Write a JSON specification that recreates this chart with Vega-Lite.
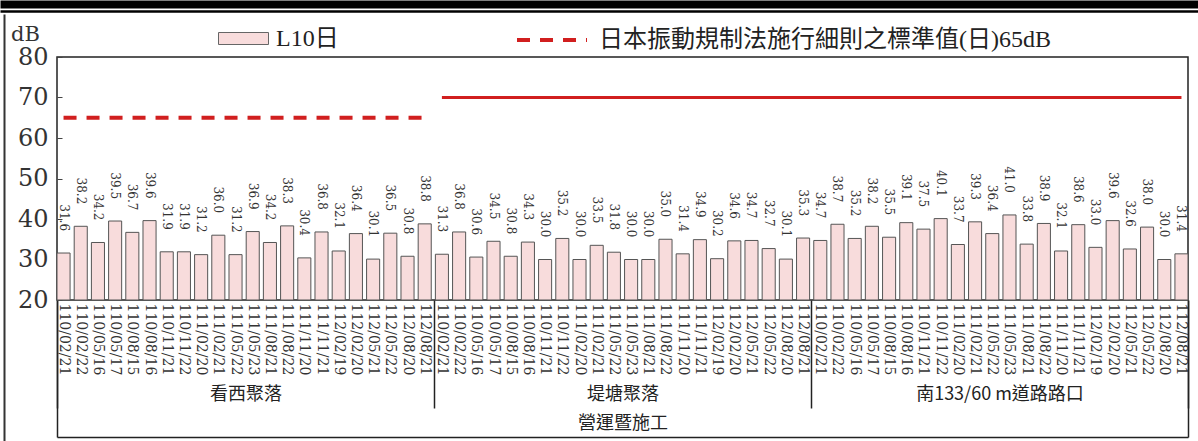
{
  "$schema": "https://vega.github.io/schema/vega-lite/v6.json",
  "width": 1131,
  "height": 243,
  "autosize": {"type": "none"},
  "padding": {"left": 57, "top": 57, "right": 10, "bottom": 141},
  "background": "white",
  "config": {
    "view": {"stroke": "#222", "strokeWidth": 1.5},
    "axis": {"grid": false}
  },
  "datasets": {
    "main": [
      {"g": "看西聚落", "id": "1:110/02/21", "v": 31.6, "std": 65},
      {"g": "看西聚落", "id": "1:110/02/22", "v": 38.2, "std": 65},
      {"g": "看西聚落", "id": "1:110/05/16", "v": 34.2, "std": 65},
      {"g": "看西聚落", "id": "1:110/05/17", "v": 39.5, "std": 65},
      {"g": "看西聚落", "id": "1:110/08/15", "v": 36.7, "std": 65},
      {"g": "看西聚落", "id": "1:110/08/16", "v": 39.6, "std": 65},
      {"g": "看西聚落", "id": "1:110/11/21", "v": 31.9, "std": 65},
      {"g": "看西聚落", "id": "1:110/11/22", "v": 31.9, "std": 65},
      {"g": "看西聚落", "id": "1:111/02/20", "v": 31.2, "std": 65},
      {"g": "看西聚落", "id": "1:111/02/21", "v": 36.0, "std": 65},
      {"g": "看西聚落", "id": "1:111/05/22", "v": 31.2, "std": 65},
      {"g": "看西聚落", "id": "1:111/05/23", "v": 36.9, "std": 65},
      {"g": "看西聚落", "id": "1:111/08/21", "v": 34.2, "std": 65},
      {"g": "看西聚落", "id": "1:111/08/22", "v": 38.3, "std": 65},
      {"g": "看西聚落", "id": "1:111/11/20", "v": 30.4, "std": 65},
      {"g": "看西聚落", "id": "1:111/11/21", "v": 36.8, "std": 65},
      {"g": "看西聚落", "id": "1:112/02/19", "v": 32.1, "std": 65},
      {"g": "看西聚落", "id": "1:112/02/20", "v": 36.4, "std": 65},
      {"g": "看西聚落", "id": "1:112/05/21", "v": 30.1, "std": 65},
      {"g": "看西聚落", "id": "1:112/05/22", "v": 36.5, "std": 65},
      {"g": "看西聚落", "id": "1:112/08/20", "v": 30.8, "std": 65},
      {"g": "看西聚落", "id": "1:112/08/21", "v": 38.8, "std": 65},
      {"g": "堤塘聚落", "id": "2:110/02/21", "v": 31.3, "std": 70},
      {"g": "堤塘聚落", "id": "2:110/02/22", "v": 36.8, "std": 70},
      {"g": "堤塘聚落", "id": "2:110/05/16", "v": 30.6, "std": 70},
      {"g": "堤塘聚落", "id": "2:110/05/17", "v": 34.5, "std": 70},
      {"g": "堤塘聚落", "id": "2:110/08/15", "v": 30.8, "std": 70},
      {"g": "堤塘聚落", "id": "2:110/08/16", "v": 34.3, "std": 70},
      {"g": "堤塘聚落", "id": "2:110/11/21", "v": 30.0, "std": 70},
      {"g": "堤塘聚落", "id": "2:110/11/22", "v": 35.2, "std": 70},
      {"g": "堤塘聚落", "id": "2:111/02/20", "v": 30.0, "std": 70},
      {"g": "堤塘聚落", "id": "2:111/02/21", "v": 33.5, "std": 70},
      {"g": "堤塘聚落", "id": "2:111/05/22", "v": 31.8, "std": 70},
      {"g": "堤塘聚落", "id": "2:111/05/23", "v": 30.0, "std": 70},
      {"g": "堤塘聚落", "id": "2:111/08/21", "v": 30.0, "std": 70},
      {"g": "堤塘聚落", "id": "2:111/08/22", "v": 35.0, "std": 70},
      {"g": "堤塘聚落", "id": "2:111/11/20", "v": 31.4, "std": 70},
      {"g": "堤塘聚落", "id": "2:111/11/21", "v": 34.9, "std": 70},
      {"g": "堤塘聚落", "id": "2:112/02/19", "v": 30.2, "std": 70},
      {"g": "堤塘聚落", "id": "2:112/02/20", "v": 34.6, "std": 70},
      {"g": "堤塘聚落", "id": "2:112/05/21", "v": 34.7, "std": 70},
      {"g": "堤塘聚落", "id": "2:112/05/22", "v": 32.7, "std": 70},
      {"g": "堤塘聚落", "id": "2:112/08/20", "v": 30.1, "std": 70},
      {"g": "堤塘聚落", "id": "2:112/08/21", "v": 35.3, "std": 70},
      {"g": "南133/60 m道路路口", "id": "3:110/02/21", "v": 34.7, "std": 70},
      {"g": "南133/60 m道路路口", "id": "3:110/02/22", "v": 38.7, "std": 70},
      {"g": "南133/60 m道路路口", "id": "3:110/05/16", "v": 35.2, "std": 70},
      {"g": "南133/60 m道路路口", "id": "3:110/05/17", "v": 38.2, "std": 70},
      {"g": "南133/60 m道路路口", "id": "3:110/08/15", "v": 35.5, "std": 70},
      {"g": "南133/60 m道路路口", "id": "3:110/08/16", "v": 39.1, "std": 70},
      {"g": "南133/60 m道路路口", "id": "3:110/11/21", "v": 37.5, "std": 70},
      {"g": "南133/60 m道路路口", "id": "3:110/11/22", "v": 40.1, "std": 70},
      {"g": "南133/60 m道路路口", "id": "3:111/02/20", "v": 33.7, "std": 70},
      {"g": "南133/60 m道路路口", "id": "3:111/02/21", "v": 39.3, "std": 70},
      {"g": "南133/60 m道路路口", "id": "3:111/05/22", "v": 36.4, "std": 70},
      {"g": "南133/60 m道路路口", "id": "3:111/05/23", "v": 41.0, "std": 70},
      {"g": "南133/60 m道路路口", "id": "3:111/08/21", "v": 33.8, "std": 70},
      {"g": "南133/60 m道路路口", "id": "3:111/08/22", "v": 38.9, "std": 70},
      {"g": "南133/60 m道路路口", "id": "3:111/11/20", "v": 32.1, "std": 70},
      {"g": "南133/60 m道路路口", "id": "3:111/11/21", "v": 38.6, "std": 70},
      {"g": "南133/60 m道路路口", "id": "3:112/02/19", "v": 33.0, "std": 70},
      {"g": "南133/60 m道路路口", "id": "3:112/02/20", "v": 39.6, "std": 70},
      {"g": "南133/60 m道路路口", "id": "3:112/05/21", "v": 32.6, "std": 70},
      {"g": "南133/60 m道路路口", "id": "3:112/05/22", "v": 38.0, "std": 70},
      {"g": "南133/60 m道路路口", "id": "3:112/08/20", "v": 30.0, "std": 70},
      {"g": "南133/60 m道路路口", "id": "3:112/08/21", "v": 31.4, "std": 70}
    ],
    "groups": [
      {"g": "看西聚落"},
      {"g": "堤塘聚落"},
      {"g": "南133/60 m道路路口"}
    ],
    "frame": [{"e": "frame"}]
  },
  "layer": [
    {
      "data": {"name": "main"},
      "layer": [
        {
          "mark": {"type": "bar", "stroke": "#555", "strokeWidth": 1},
          "encoding": {
            "x": {
              "field": "id", "type": "nominal", "sort": null,
              "scale": {"paddingInner": 0.24, "paddingOuter": 0},
              "axis": {
                "title": null, "labelAngle": 90, "labelAlign": "left", "labelBaseline": "middle",
                "labelFont": "DejaVu Serif", "labelFontSize": 14, "labelColor": "#333",
                "labelPadding": 3, "ticks": false, "domain": false,
                "labelExpr": "split(datum.value, ':')[1]", "labelOverlap": false, "labelBound": false, "labelLimit": 200
              }
            },
            "y": {
              "field": "v", "type": "quantitative",
              "scale": {"domain": [20, 80], "nice": false, "zero": false},
              "axis": {
                "title": "dB", "titleAngle": 0, "titleX": -32, "titleY": -23, "titleAlign": "center",
                "titleBaseline": "middle", "titleFont": "DejaVu Serif", "titleFontSize": 21,
                "titleFontWeight": "normal", "titleColor": "#333",
                "values": [20, 30, 40, 50, 60, 70, 80],
                "labelFont": "DejaVu Serif", "labelFontSize": 24, "labelColor": "#333",
                "tickSize": -5, "tickColor": "#444", "labelPadding": 14, "domain": false
              }
            },
            "y2": {"datum": 20},
            "fill": {
              "datum": "L10日",
              "scale": {"domain": ["L10日"], "range": ["#f8dcdc"]},
              "legend": {
                "title": null, "orient": "none", "legendX": 161, "legendY": -44,
                "direction": "horizontal", "symbolSize": 2500,
                "symbolType": "M-1,-0.24H1V0.24H-1Z",
                "symbolStrokeColor": "#666", "symbolStrokeWidth": 1, "symbolOpacity": 1,
                "labelOffset": 7, "labelFont": "Liberation Serif, Noto Sans CJK TC",
                "labelFontSize": 24, "labelColor": "#222", "labelLimit": 800
              }
            }
          }
        },
        {
          "mark": {"type": "text", "angle": 90, "align": "right", "baseline": "middle", "dx": -22,
                   "font": "DejaVu Serif", "fontSize": 12, "color": "#333"},
          "encoding": {
            "x": {"field": "id", "type": "nominal", "sort": null},
            "y": {"field": "v", "type": "quantitative"},
            "text": {"field": "v", "type": "quantitative", "format": ".1f"}
          }
        },
        {
          "transform": [{"filter": "datum.g === '看西聚落'"}],
          "mark": {"type": "line", "strokeDash": [13, 10], "strokeWidth": 4},
          "encoding": {
            "x": {"field": "id", "type": "nominal", "sort": null},
            "y": {"field": "std", "type": "quantitative"},
            "stroke": {
              "datum": "日本振動規制法施行細則之標準值(日)65dB",
              "scale": {"domain": ["日本振動規制法施行細則之標準值(日)65dB"], "range": ["#d11f1f"]},
              "legend": {
                "title": null, "orient": "none", "legendX": 458, "legendY": -54,
                "direction": "horizontal", "symbolSize": 4900, "symbolType": "stroke",
                "symbolDash": [13, 10], "symbolStrokeWidth": 4, "symbolOpacity": 1,
                "labelOffset": 10, "labelFont": "Liberation Serif, Noto Sans CJK TC",
                "labelFontSize": 24, "labelColor": "#222", "labelLimit": 800
              }
            }
          }
        },
        {
          "transform": [{"filter": "datum.g !== '看西聚落'"}],
          "mark": {"type": "line", "strokeWidth": 3, "color": "#d11f1f"},
          "encoding": {
            "x": {"field": "id", "type": "nominal", "sort": null},
            "y": {"field": "std", "type": "quantitative"}
          }
        }
      ]
    },
    {
      "data": {"name": "groups"},
      "mark": {"type": "point", "opacity": 0},
      "encoding": {
        "x": {
          "field": "g", "type": "nominal", "sort": null,
          "scale": {"paddingInner": 0, "paddingOuter": 0},
          "axis": {
            "orient": "bottom", "title": "營運暨施工", "domain": false, "ticks": true,
            "tickBand": "extent", "tickSize": 108, "tickColor": "#222", "tickWidth": 1.5,
            "labelAngle": 0, "labelFont": "Noto Sans CJK TC", "labelFontSize": 18, "labelColor": "#222",
            "labelPadding": -23, "labelBaseline": "top",
            "titleFont": "Noto Sans CJK TC", "titleFontSize": 18, "titleFontWeight": "normal",
            "titleColor": "#222", "titlePadding": 6
          }
        }
      }
    },
    {
      "data": {"name": "frame"},
      "mark": {"type": "point", "opacity": 0},
      "encoding": {
        "x": {
          "field": "e", "type": "nominal",
          "scale": {"paddingInner": 0, "paddingOuter": 0},
          "axis": {
            "orient": "bottom", "offset": 137, "title": null, "labels": false,
            "domain": true, "domainColor": "#222", "domainWidth": 1.5,
            "ticks": true, "tickBand": "extent", "tickSize": -137, "tickColor": "#222", "tickWidth": 1.5
          }
        }
      }
    },
    {
      "data": {"name": "frame"},
      "mark": {"type": "point", "opacity": 0},
      "encoding": {
        "x": {
          "field": "e", "type": "nominal",
          "scale": {"range": [-57, 1141]},
          "axis": {
            "orient": "top", "offset": 53, "title": null, "labels": false, "ticks": false,
            "domain": true, "domainColor": "#000", "domainWidth": 8
          }
        },
        "y": {
          "field": "e", "type": "nominal",
          "scale": {"range": [-43, 384]},
          "axis": {
            "orient": "left", "offset": 53, "title": null, "labels": false, "ticks": false,
            "domain": true, "domainColor": "#333", "domainWidth": 2
          }
        }
      }
    },
    {
      "data": {"name": "frame"},
      "mark": {"type": "point", "opacity": 0},
      "encoding": {
        "x": {
          "field": "e", "type": "nominal",
          "scale": {"range": [-57, 1141]},
          "axis": {
            "orient": "top", "offset": 46, "title": null, "labels": false, "ticks": false,
            "domain": true, "domainColor": "#000", "domainWidth": 2.5
          }
        }
      }
    }
  ],
  "resolve": {
    "scale": {"x": "independent", "y": "independent"},
    "axis": {"x": "independent", "y": "independent"}
  }
}
